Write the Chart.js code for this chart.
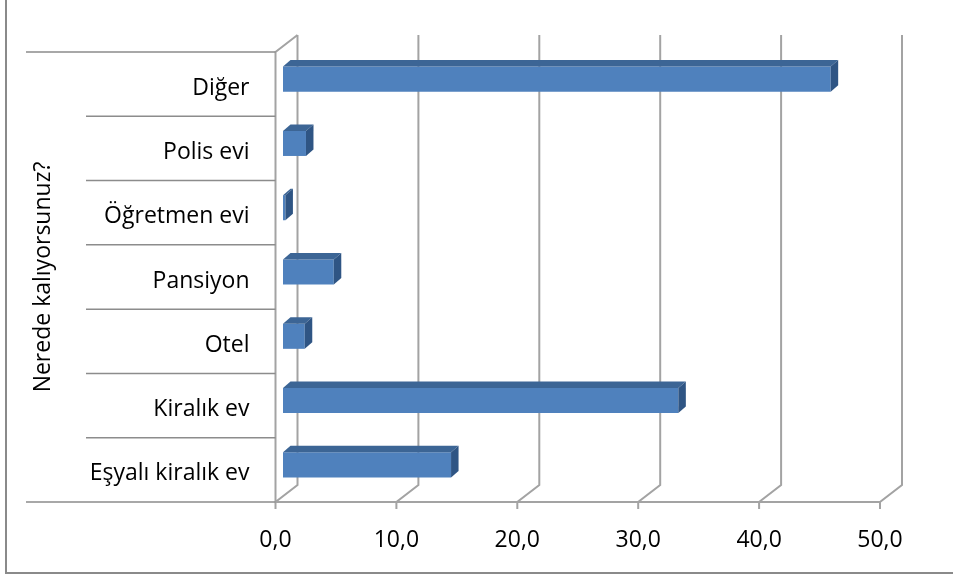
<!DOCTYPE html>
<html lang="tr">
<head>
<meta charset="utf-8">
<title>Nerede kalıyorsunuz?</title>
<script src="https://cdn.jsdelivr.net/npm/chart.js@4.4.1/dist/chart.umd.min.js"></script>
<style>
  html, body { margin: 0; padding: 0; background: #fff; }
  #wrap { width: 953px; height: 578px; }
</style>
</head>
<body>
<div id="wrap"><canvas id="chart" width="953" height="578"></canvas></div>
<script>
// --- data (percent) ---
const categories = ['Diğer', 'Polis evi', 'Öğretmen evi', 'Pansiyon', 'Otel', 'Kiralık ev', 'Eşyalı kiralık ev'];
const values = [45.3, 1.9, 0.2, 4.2, 1.8, 32.7, 13.9];
const xTickLabels = ['0,0', '10,0', '20,0', '30,0', '40,0', '50,0'];
const axisTitle = 'Nerede kalıyorsunuz?';

// depth of the 3D box (floor/back wall) and of the bars
const DX = 22, DY = -17;
const BAR_SHIFT_X = 7.5, BAR_SHIFT_Y = -5;
const BAR_DX = 7.5, BAR_DY = -6.5;

const threeD = {
    id: 'threeD',
    beforeDraw(chart) {
        const { ctx } = chart;
        ctx.save();
        ctx.strokeStyle = '#8a8a8a';
        ctx.lineWidth = 2;
        ctx.beginPath();
        ctx.moveTo(6, 0);
        ctx.lineTo(6, 573);
        ctx.lineTo(953, 573);
        ctx.stroke();
        ctx.restore();
    },
    beforeDatasetsDraw(chart) {
        const { ctx, chartArea: a, scales: { x } } = chart;
        const x0 = x.getPixelForValue(0);
        const x1 = x.getPixelForValue(50);
        ctx.save();
        ctx.strokeStyle = '#a3a3a3';
        ctx.lineWidth = 2;
        ctx.beginPath();
        x.ticks.forEach(t => {
            const px = x.getPixelForValue(t.value);
            ctx.moveTo(px, a.bottom + 7);
            ctx.lineTo(px, a.bottom);
            ctx.lineTo(px + DX, a.bottom + DY);
            ctx.lineTo(px + DX, a.top + DY);
        });
        ctx.moveTo(x0, a.bottom);
        ctx.lineTo(x1, a.bottom);
        ctx.moveTo(x0, a.bottom);
        ctx.lineTo(x0, a.top);
        ctx.lineTo(x0 + DX, a.top + DY);
        ctx.stroke();

        // category separators in the label area
        const band = (a.bottom - a.top) / categories.length;
        ctx.strokeStyle = '#8c8c8c';
        ctx.lineWidth = 1.5;
        ctx.beginPath();
        for (let k = 0; k <= categories.length; k++) {
            const yy = a.top + k * band;
            const start = (k === 0 || k === categories.length) ? 26 : 86;
            ctx.moveTo(start, yy);
            ctx.lineTo(x0, yy);
        }
        ctx.stroke();
        ctx.restore();

        ctx.save();
        ctx.translate(BAR_SHIFT_X, BAR_SHIFT_Y);
    },
    afterDatasetsDraw(chart) {
        const { ctx } = chart;
        const meta = chart.getDatasetMeta(0);
        meta.data.forEach(bar => {
            const { x: xe, y: yc, base, height } = bar.getProps(['x', 'y', 'base', 'height'], true);
            const t = yc - height / 2, b = yc + height / 2;
            ctx.fillStyle = '#3c6595';
            ctx.beginPath();
            ctx.moveTo(base, t);
            ctx.lineTo(xe, t);
            ctx.lineTo(xe + BAR_DX, t + BAR_DY);
            ctx.lineTo(base + BAR_DX, t + BAR_DY);
            ctx.closePath();
            ctx.fill();
            ctx.fillStyle = '#2f5584';
            ctx.beginPath();
            ctx.moveTo(xe, t);
            ctx.lineTo(xe + BAR_DX, t + BAR_DY);
            ctx.lineTo(xe + BAR_DX, b + BAR_DY);
            ctx.lineTo(xe, b);
            ctx.closePath();
            ctx.fill();
        });
        ctx.restore();
    }
};

new Chart(document.getElementById('chart'), {
    type: 'bar',
    data: {
        labels: categories,
        datasets: [{
            data: values,
            backgroundColor: '#4f81bd',
            borderWidth: 0,
            barPercentage: 0.39,
            categoryPercentage: 1.0,
            clip: false,
        }],
    },
    options: {
        indexAxis: 'y',
        responsive: false,
        animation: false,
        layout: { padding: { left: 0, top: 52, right: 73, bottom: 0 } },
        plugins: { legend: { display: false }, tooltip: { enabled: false } },
        scales: {
            x: {
                min: 0,
                max: 50,
                ticks: {
                    stepSize: 10,
                    color: '#000',
                    padding: 25,
                    font: { family: 'Open Sans', size: 23 },
                    callback: (v, i) => xTickLabels[i],
                },
                grid: { display: false, drawTicks: false },
                border: { display: false },
                afterFit: s => { s.height = 76; },
            },
            y: {
                ticks: {
                    color: '#000',
                    padding: 26,
                    labelOffset: 4,
                    font: { family: 'Open Sans', size: 23 },
                },
                grid: { display: false, drawTicks: false },
                border: { display: false },
                title: {
                    display: true,
                    text: axisTitle,
                    color: '#000',
                    padding: { top: 30, bottom: 0 },
                    font: { family: 'Open Sans', size: 23 },
                },
                afterFit: s => { s.width = 275.5; },
            },
        },
    },
    plugins: [threeD],
});
</script>
</body>
</html>
